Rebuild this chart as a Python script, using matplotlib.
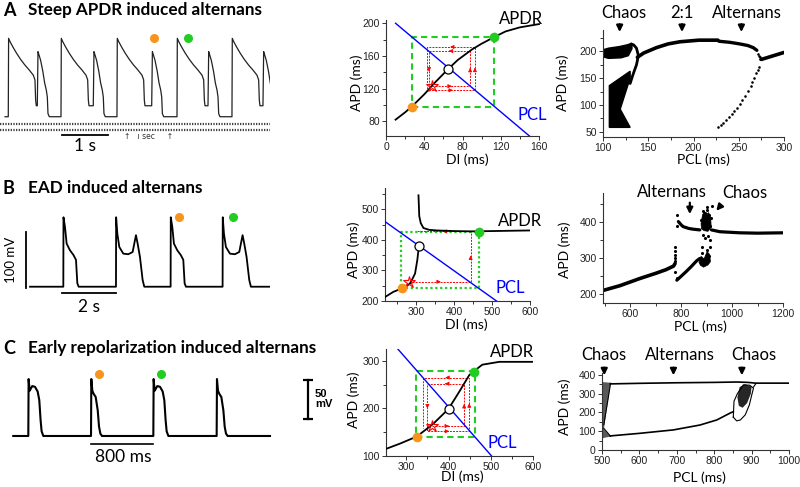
import matplotlib
matplotlib.use('Agg')
import matplotlib.pyplot as plt
from matplotlib.ticker import MultipleLocator

W, H = 800, 487
fig = plt.figure(figsize=(W / 100, H / 100), dpi=100)

SANS = ['Lato', 'DejaVu Sans']
ARIAL = ['Liberation Sans', 'DejaVu Sans']
ORANGE = '#f7941d'
GREEN = '#22cc22'
BLUE = '#0000ff'
RED = '#ff0000'

# ======================= DATA =======================
# ---- Panel A trace (time ms, voltage mV) ----
a_long_t = [0, 7, 36, 100, 180, 270, 360, 450, 544, 580, 595, 609]
a_long_v = [-80, 20, 16, 9, 1, -7, -14, -20, -27, -33, -59, -66]
a_short_t = [0, 15, 36, 72, 120, 160, 196, 218, 232, 261]
a_short_v = [-66, 3, -1, -8, -22, -37, -46, -55, -76, -80]
a_onsets = [180, 811, 1326, 2028, 2543, 3298, 3848, 4522, 5043, 5717]
a_types = ['L', 'S', 'L', 'S', 'L', 'S', 'L', 'S', 'L', 'S']
a_dots_t = [3348, 4080]
a_dots_v = [21, 21]

# ---- Panel B trace ----
b_short_t = [0, 6, 61, 122, 245, 368, 466, 515, 564]
b_short_v = [-85, 39, 22, -8, -20, -28, -37, -79, -85]
b_ead_t = [0, 6, 49, 122, 270, 453, 613, 698, 735, 796, 882, 980, 1041]
b_ead_v = [-85, 39, 10, -14, -26, -27, -23, -2, 7, -8, -32, -73, -85]
b_onsets = [1225, 3161, 5170, 7081]
b_types = ['S', 'E', 'S', 'E']
b_dots_t = [5478, 7474]
b_dots_v = [39, 39]

# ---- Panel C trace ----
c_long_t = [0, 4, 17, 34, 51, 86, 120, 141, 158, 171, 193]
c_long_v = [-80, -7, -22, -19, -16, -17, -23, -34, -60, -74, -80]
c_short_t = [0, 4, 17, 34, 60, 86, 103, 120, 141]
c_short_v = [-80, -7, -22, -26, -30, -47, -68, -77, -80]
c_onsets = [0, 805, 1605, 2418]
c_types = ['L', 'S', 'L', 'S']
c_dots_t = [908, 1703]
c_dots_v = [0, 0]

# ---- Middle A (APDR map) ----
mA_di = [10, 20, 27, 40, 50, 60, 65, 75, 90, 100, 113, 125, 140, 160]
mA_apd = [82, 91, 98, 113, 126, 138, 144, 155, 168, 175, 183, 190, 195, 199]
mA_pcl_di = [10, 150]
mA_pcl_apd = [200, 62]
mA_box_di = [27, 113]
mA_box_apd = [98, 183]
mA_web_di = [48, 88, 88, 45, 45, 93, 93, 43, 43]
mA_web_apd = [123, 123, 166, 166, 118, 118, 171, 171, 120]
mA_fixed = (65, 144)
mA_star = (48, 123)

# ---- Middle B ----
mB_up_di = [307, 309, 313, 320, 335, 356, 400, 444, 500, 600]
mB_up_apd = [546, 478, 455, 439, 433, 431, 429, 428, 429, 431]
mB_lo_di = [219, 241, 263, 285, 298, 304, 307, 309]
mB_lo_apd = [213, 230, 241, 257, 290, 335, 368, 379]
mB_pcl_di = [219, 512]
mB_pcl_apd = [460, 200]
mB_box_di = [262, 467]
mB_box_apd = [241, 427]
mB_web_di = [281, 444, 444, 303]
mB_web_apd = [263, 263, 428, 428]
mB_fixed = (309, 379)
mB_star = (281, 263)

# ---- Middle C ----
mC_di = [252, 285, 325, 363, 400, 426, 449, 461, 480, 520, 600]
mC_apd = [115, 126, 141, 167, 199, 236, 270, 279, 292, 298, 298]
mC_pcl_di = [280, 502]
mC_pcl_apd = [325, 100]
mC_box_di = [324, 462]
mC_box_apd = [139, 279]
mC_web_di = [362, 437, 437, 350, 350, 449, 449, 340, 340]
mC_web_apd = [163, 163, 252, 252, 152, 152, 265, 265, 158]
mC_fixed = (400, 199)
mC_star = (362, 163)

# ---- Right A (bifurcation) ----
rA_main_pcl = [138, 145, 159, 172, 185, 206, 227]
rA_main_apd = [189, 197, 207, 214, 218, 221, 221]
rA_main2_pcl = [228, 240, 251, 260, 266, 270]
rA_main2_apd = [219, 217, 214, 211, 207, 202]
rA_tail_pcl = [275, 300]
rA_tail_apd = [185, 198]
rA_hook_pcl = [131, 134, 137, 139, 138, 137, 133, 130]
rA_hook_apd = [214, 212, 206, 193, 183, 175, 156, 140]
rA_blob1_pcl = [100, 100, 106, 118, 126, 132, 132, 128, 120, 106, 100]
rA_blob1_apd = [196, 203, 206, 209, 212, 215, 205, 192, 188, 187, 190]
rA_blob2_pcl = [130, 107, 107, 130, 119, 130]
rA_blob2_apd = [163, 136, 58, 58, 92, 150]
rA_lo_pcl = [227, 230, 233, 236, 239, 242, 245, 248, 251, 254, 257, 260, 263, 265, 267, 269, 271, 272,
             271, 272, 273, 274]
rA_lo_apd = [59, 63, 67, 72, 77, 83, 89, 95, 102, 109, 117, 126, 135, 143, 151, 159, 166, 170,
             196, 192, 189, 186]

# ---- Right B ----
rB_up_pcl = [789, 800, 808, 830, 847, 873]
rB_up_apd = [401, 392, 387, 382, 380, 378]
rB_up2_pcl = [919, 952, 1030, 1100, 1200]
rB_up2_apd = [378, 373, 370, 369, 370]
rB_lo_pcl = [495, 560, 639, 700, 740, 770, 776]
rB_lo_apd = [211, 224, 244, 258, 268, 278, 285]
rB_lo2_pcl = [783, 800, 820, 840, 860, 873]
rB_lo2_apd = [239, 250, 263, 277, 292, 299]
rB_dots_pcl = [776, 776, 776, 776, 777, 777, 783, 783, 784, 895, 905, 912, 887, 920, 900, 915, 880,
               884, 893, 902, 910, 916, 878, 888, 897, 907, 914, 883, 900, 909]
rB_dots_apd = [331, 320, 310, 300, 292, 262, 419, 389, 245, 355, 360, 350, 365, 445, 440, 330, 330,
               430, 425, 432, 420, 410, 405, 398, 412, 400, 390, 315, 322, 305]
rB_ch1_pcl = [878, 884, 892, 900, 908, 916, 918, 905, 890, 880]
rB_ch1_apd = [395, 420, 428, 420, 426, 412, 385, 374, 376, 381]
rB_ch2_pcl = [870, 878, 890, 902, 912, 915, 905, 888, 876]
rB_ch2_apd = [288, 305, 298, 318, 310, 290, 281, 275, 280]

# ---- Right C ----
rC_up_pcl = [522, 600, 700, 800, 860, 890, 910, 1000]
rC_up_apd = [352, 355, 358, 360, 362, 360, 356, 356]
rC_lo_pcl = [522, 602, 691, 762, 807, 842, 851]
rC_lo_apd = [75, 89, 107, 133, 160, 196, 204]
rC_loop_pcl = [851, 853, 862, 878, 895, 905, 900, 894, 883, 870, 860, 851]
rC_loop_apd = [175, 260, 300, 347, 345, 329, 290, 240, 187, 160, 155, 175]
rC_dense_pcl = [862, 868, 882, 900, 898, 888, 876, 866]
rC_dense_apd = [280, 335, 350, 338, 300, 250, 225, 235]
rC_lch_pcl = [500, 500, 523, 507, 505, 523]
rC_lch_apd = [62, 362, 358, 140, 110, 72]
rC_w1_pcl = [523, 505]
rC_w1_apd = [355, 135]
rC_w2_pcl = [505, 523]
rC_w2_apd = [115, 73]

# ======================= HELPERS =======================
def px_axes(rect):
    l, t, r, b = rect
    return fig.add_axes([l / W, 1 - b / H, (r - l) / W, (b - t) / H])


def build_trace(start, end, base, onsets, types, shapes):
    t, v = [start], [base]
    for on, ty in zip(onsets, types):
        st, sv = shapes[ty]
        t += [on + x for x in st]
        v += list(sv)
    if end > t[-1]:
        t.append(end)
        v.append(base)
    return t, v


def style(ax, xlim, ylim, xt, yt, xmin, ymin):
    ax.set_xlim(xlim)
    ax.set_ylim(ylim)
    ax.set_xticks(xt)
    ax.set_yticks(yt)
    ax.xaxis.set_minor_locator(MultipleLocator(xmin))
    ax.yaxis.set_minor_locator(MultipleLocator(ymin))
    for s in ['top', 'right']:
        ax.spines[s].set_visible(False)
    for s in ['left', 'bottom']:
        ax.spines[s].set_linewidth(0.8)
        ax.spines[s].set_color('#333333')
    ax.tick_params(which='both', direction='out', width=0.7, color='#333333',
                   labelsize=7.5, pad=1.5, labelcolor='#222222')
    ax.tick_params(which='major', length=3)
    ax.tick_params(which='minor', length=2)
    for lab in ax.get_xticklabels() + ax.get_yticklabels():
        lab.set_fontfamily(ARIAL)
    ax.patch.set_alpha(0)


def labels(ax, rect, xl, xpos, yl, ypos):
    l, t, r, b = rect
    ax.set_xlabel(xl, fontfamily=SANS, fontsize=10, va='center')
    ax.xaxis.set_label_coords((xpos[0] - l) / (r - l), (b - xpos[1]) / (b - t))
    ax.set_ylabel(yl, fontfamily=SANS, fontsize=10, va='center')
    ax.yaxis.set_label_coords((ypos[0] - l) / (r - l), (b - ypos[1]) / (b - t))


def web(ax, di, apd, segs):
    ax.plot(di, apd, color=RED, lw=0.7, ls=(0, (2, 1.2)), zorder=3)
    for i in segs:
        x0, y0, x1, y1 = di[i], apd[i], di[i + 1], apd[i + 1]
        xm, ym = (x0 + x1) / 2, (y0 + y1) / 2
        dx, dy = (x1 - x0) * 0.02, (y1 - y0) * 0.02
        ax.annotate('', xy=(xm + dx, ym + dy), xytext=(xm - dx, ym - dy),
                    arrowprops=dict(arrowstyle='-|>', color=RED, lw=0.6, mutation_scale=5.5))


def rect_path(xs, ys):
    return [xs[0], xs[1], xs[1], xs[0], xs[0]], [ys[0], ys[0], ys[1], ys[1], ys[0]]


def arrow(ax, x0, y0, x1, y1):
    ax.annotate('', xy=(x1, y1), xytext=(x0, y0), annotation_clip=False,
                arrowprops=dict(arrowstyle='-|>', color='black', lw=1.6, mutation_scale=9))


# ======================= TITLES =======================
for y, letter, title in [(10, 'A', 'Steep APDR induced alternans'),
                         (188, 'B', 'EAD induced alternans'),
                         (348, 'C', 'Early repolarization induced alternans')]:
    fig.text(3 / W, 1 - y / H, letter, fontfamily=SANS, fontweight='bold', fontsize=13,
             va='center', ha='left')
    fig.text(28 / W, 1 - y / H, title, fontfamily=SANS, fontweight='bold', fontsize=12.3,
             va='center', ha='left')

# ======================= TRACE A =======================
axA = px_axes((0, 25, 270, 152))
axA.axis('off')
axA.set_xlim(0, 5870)
axA.set_ylim(-125, 37)
tA, vA = build_trace(110, 5870, -80, a_onsets, a_types,
                     {'L': (a_long_t, a_long_v), 'S': (a_short_t, a_short_v)})
axA.plot(tA, vA, color='#222222', lw=0.9)
axA.plot([0, 5870], [-89.3, -89.3], color='#444444', lw=1.6, ls=(0, (0.6, 0.6)))
axA.plot([0, 5870], [-97, -97], color='#444444', lw=1.6, ls=(0, (0.6, 0.6)))
axA.plot([1348, 2348], [-103.4, -103.4], color='black', lw=1.3)
axA.text(1848, -117.4, '1 s', fontfamily=SANS, fontsize=12.5, ha='center', va='center')
axA.text(3239, -104.6, '↑   ı sec     ↑', fontfamily=['DejaVu Sans'], fontsize=5.5,
         ha='center', va='center', color='#333333')
axA.plot(a_dots_t[0], a_dots_v[0], 'o', color=ORANGE, ms=6.5, mec='none')
axA.plot(a_dots_t[1], a_dots_v[1], 'o', color=GREEN, ms=6.5, mec='none')

# ======================= TRACE B =======================
axB = px_axes((0, 195, 270, 315))
axB.axis('off')
axB.set_xlim(-1103, 8824)
axB.set_ylim(-135.5, 78.75)
tB, vB = build_trace(0, 8820, -85, b_onsets, b_types,
                     {'S': (b_short_t, b_short_v), 'E': (b_ead_t, b_ead_v)})
axB.plot(tB, vB, color='black', lw=1.3)
axB.plot([-147, -147], [-87, 13], color='black', lw=1.3)
axB.text(-699, -37, '100 mV', fontfamily=SANS, fontsize=9.5, rotation=90,
         ha='center', va='center')
axB.plot([1165, 3165], [-95.7, -95.7], color='black', lw=1.3)
axB.text(2169, -120.7, '2 s', fontfamily=SANS, fontsize=12.5, ha='center', va='center')
axB.plot(b_dots_t[0], b_dots_v[0], 'o', color=ORANGE, ms=6.5, mec='none')
axB.plot(b_dots_t[1], b_dots_v[1], 'o', color=GREEN, ms=6.5, mec='none')

# ======================= TRACE C =======================
axC = px_axes((0, 360, 330, 465))
axC.axis('off')
axC.set_xlim(-363.3, 3873)
axC.set_ylim(-117.2, 17.4)
tC, vC = build_trace(-193, 3103, -80, c_onsets, c_types,
                     {'L': (c_long_t, c_long_v), 'S': (c_short_t, c_short_v)})
axC.plot(tC, vC, color='black', lw=1.5)
axC.plot([806, 1606], [-90.3, -90.3], color='black', lw=1.2)
axC.text(1216, -106.5, '800 ms', fontfamily=SANS, fontsize=12.5, ha='center', va='center')
axC.plot([3594, 3594], [-58.2, -8.2], color='black', lw=1.6)
axC.plot([3594, 3594], [-58.2, -8.2], ls='none', marker='_', ms=7, mew=1.6, color='black')
axC.text(3680, -33, '50\nmV', fontfamily=ARIAL, fontweight='bold', fontsize=8,
         ha='left', va='center', linespacing=1.0)
axC.plot(c_dots_t[0], c_dots_v[0], 'o', color=ORANGE, ms=6.5, mec='none')
axC.plot(c_dots_t[1], c_dots_v[1], 'o', color=GREEN, ms=6.5, mec='none')

# ======================= MIDDLE A =======================
rMA = (386, 20, 539, 136)
ax = px_axes(rMA)
style(ax, (0, 160), (62, 204), [0, 40, 80, 120, 160], [80, 120, 160, 200], 20, 20)
labels(ax, rMA, 'DI (ms)', (467, 160), 'APD (ms)', (357, 83))
bx, by = rect_path(mA_box_di, mA_box_apd)
ax.plot(bx, by, color=GREEN, lw=1.5, ls=(0, (3, 2)), zorder=2)
web(ax, mA_web_di, mA_web_apd, [0, 1, 2, 3, 4, 5, 6])
ax.plot(mA_di, mA_apd, color='black', lw=1.3, zorder=4, clip_on=False)
ax.plot(mA_pcl_di, mA_pcl_apd, color=BLUE, lw=1.0, zorder=4)
ax.plot(*mA_star, marker='*', ms=9, mfc='none', mec=RED, mew=0.8, zorder=5)
ax.plot(*mA_fixed, 'o', ms=6.5, mfc='white', mec='black', mew=0.9, zorder=6)
ax.plot(mA_box_di[0], mA_box_apd[0], 'o', ms=7, color=ORANGE, mec='none', zorder=6)
ax.plot(mA_box_di[1], mA_box_apd[1], 'o', ms=7, color=GREEN, mec='none', zorder=6)
ax.text(118, 205, 'APDR', fontfamily=SANS, fontsize=12, ha='left', va='center', clip_on=False)
ax.text(137, 88, 'PCL', fontfamily=SANS, fontsize=12, color=BLUE, ha='left', va='center')

# ======================= MIDDLE B =======================
rMB = (385, 188, 530, 301)
ax = px_axes(rMB)
style(ax, (219, 600), (200, 570), [300, 400, 500, 600], [200, 300, 400, 500], 50, 50)
labels(ax, rMB, 'DI (ms)', (466, 325), 'APD (ms)', (354, 250))
bx, by = rect_path(mB_box_di, mB_box_apd)
ax.plot(bx, by, color=GREEN, lw=1.6, ls=(0, (1, 1.2)), zorder=2)
web(ax, mB_web_di, mB_web_apd, [0, 1, 2])
ax.plot(mB_up_di, mB_up_apd, color='black', lw=1.3, zorder=4)
ax.plot(mB_lo_di, mB_lo_apd, color='black', lw=1.3, zorder=4)
ax.plot(mB_pcl_di, mB_pcl_apd, color=BLUE, lw=1.0, zorder=4)
ax.plot(*mB_star, marker='*', ms=9, mfc='none', mec=RED, mew=0.8, zorder=5)
ax.plot(*mB_fixed, 'o', ms=6.5, mfc='white', mec='black', mew=0.9, zorder=6)
ax.plot(mB_box_di[0] + 1, mB_box_apd[0], 'o', ms=7, color=ORANGE, mec='none', zorder=6)
ax.plot(mB_box_di[1] - 1, mB_box_apd[1] - 2, 'o', ms=7, color=GREEN, mec='none', zorder=6)
ax.text(515, 463, 'APDR', fontfamily=SANS, fontsize=12, ha='left', va='center')
ax.text(509, 242, 'PCL', fontfamily=SANS, fontsize=12, color=BLUE, ha='left', va='center')

# ======================= MIDDLE C =======================
rMC = (386, 349, 533, 456)
ax = px_axes(rMC)
style(ax, (252, 600), (100, 325), [300, 400, 500, 600], [100, 200, 300], 50, 50)
labels(ax, rMC, 'DI (ms)', (462, 477), 'APD (ms)', (354, 400))
bx, by = rect_path(mC_box_di, mC_box_apd)
ax.plot(bx, by, color=GREEN, lw=1.5, ls=(0, (3, 2)), zorder=2)
web(ax, mC_web_di, mC_web_apd, [0, 1, 2, 3, 4, 5, 6])
ax.plot(mC_di, mC_apd, color='black', lw=1.3, zorder=4)
ax.plot(mC_pcl_di, mC_pcl_apd, color=BLUE, lw=1.0, zorder=4)
ax.plot(*mC_star, marker='*', ms=9, mfc='none', mec=RED, mew=0.8, zorder=5)
ax.plot(*mC_fixed, 'o', ms=6.5, mfc='white', mec='black', mew=0.9, zorder=6)
ax.plot(mC_box_di[0] + 1, mC_box_apd[0] + 2, 'o', ms=7, color=ORANGE, mec='none', zorder=6)
ax.plot(mC_box_di[1] - 1, mC_box_apd[1] - 2, 'o', ms=7, color=GREEN, mec='none', zorder=6)
ax.text(498, 319, 'APDR', fontfamily=SANS, fontsize=12, ha='left', va='center', clip_on=False)
ax.text(492, 127, 'PCL', fontfamily=SANS, fontsize=12, color=BLUE, ha='left', va='center')

# ======================= RIGHT A =======================
rRA = (603, 30, 784, 137)
ax = px_axes(rRA)
style(ax, (100, 300), (40, 240), [100, 150, 200, 250, 300], [50, 100, 150, 200], 25, 25)
labels(ax, rRA, 'PCL (ms)', (703, 160), 'APD (ms)', (563, 83))
ax.fill(rA_blob1_pcl, rA_blob1_apd, color='black', lw=1)
ax.fill(rA_blob2_pcl, rA_blob2_apd, color='black', lw=1)
ax.plot(rA_hook_pcl, rA_hook_apd, color='black', lw=2.0, solid_capstyle='round')
ax.plot(rA_main_pcl, rA_main_apd, color='black', lw=2.6, solid_capstyle='round')
ax.plot(rA_main2_pcl, rA_main2_apd, color='black', lw=2.4, solid_capstyle='round')
ax.plot(rA_tail_pcl, rA_tail_apd, color='black', lw=2.6, solid_capstyle='round')
ax.scatter(rA_lo_pcl, rA_lo_apd, s=3.5, color='black', lw=0)
for x, name in [(122.8, 'Chaos'), (187.3, '2:1'), (259.5, 'Alternans')]:
    ax.text(x, 272, name, fontfamily=SANS, fontsize=12, ha='center', va='center', clip_on=False)
for x in [118.4, 187.3, 252.9]:
    arrow(ax, x, 256, x, 231)

# ======================= RIGHT B =======================
rRB = (603, 193, 783, 303)
ax = px_axes(rRB)
style(ax, (493, 1200), (176, 480), [600, 800, 1000, 1200], [200, 300, 400], 100, 50)
labels(ax, rRB, 'PCL (ms)', (700, 327), 'APD (ms)', (565, 250))
ax.plot(rB_up_pcl, rB_up_apd, color='black', lw=2.3, solid_capstyle='round')
ax.plot(rB_up2_pcl, rB_up2_apd, color='black', lw=2.3, solid_capstyle='round')
ax.plot(rB_lo_pcl, rB_lo_apd, color='black', lw=2.6, solid_capstyle='round')
ax.plot(rB_lo2_pcl, rB_lo2_apd, color='black', lw=2.3, solid_capstyle='round')
ax.fill(rB_ch1_pcl, rB_ch1_apd, color='black', lw=0.5)
ax.fill(rB_ch2_pcl, rB_ch2_apd, color='black', lw=0.5)
ax.scatter(rB_dots_pcl, rB_dots_apd, s=5, color='black', lw=0)
ax.text(763, 483, 'Alternans', fontfamily=SANS, fontsize=12, ha='center', va='center', clip_on=False)
ax.text(1050, 479, 'Chaos', fontfamily=SANS, fontsize=12, ha='center', va='center', clip_on=False)
arrow(ax, 834, 461, 834, 414)
arrow(ax, 963, 452, 931, 425)

# ======================= RIGHT C =======================
rRC = (602, 373, 789, 450)
ax = px_axes(rRC)
style(ax, (500, 1000), (0, 410), [500, 600, 700, 800, 900, 1000], [0, 100, 200, 300, 400], 50, 50)
labels(ax, rRC, 'PCL (ms)', (699, 478), 'APD (ms)', (565, 407))
ax.fill(rC_lch_pcl, rC_lch_apd, color='#222222', alpha=0.75, lw=0)
ax.plot(rC_w1_pcl, rC_w1_apd, color='black', lw=0.8)
ax.plot(rC_w2_pcl, rC_w2_apd, color='black', lw=0.8)
ax.plot(rC_up_pcl, rC_up_apd, color='black', lw=1.2)
ax.plot(rC_lo_pcl, rC_lo_apd, color='black', lw=1.2)
ax.plot(rC_loop_pcl, rC_loop_apd, color='black', lw=0.8)
ax.fill(rC_dense_pcl, rC_dense_apd, color='black', alpha=0.85, lw=0)
ax.plot([905, 912], [335, 355], color='black', lw=0.8)
for x, name in [(505, 'Chaos'), (709, 'Alternans'), (905, 'Chaos')]:
    ax.text(x, 506, name, fontfamily=SANS, fontsize=12, ha='center', va='center', clip_on=False)
for x in [506, 691, 874]:
    arrow(ax, x, 453, x, 383)

fig.savefig('out.png', dpi=100)
